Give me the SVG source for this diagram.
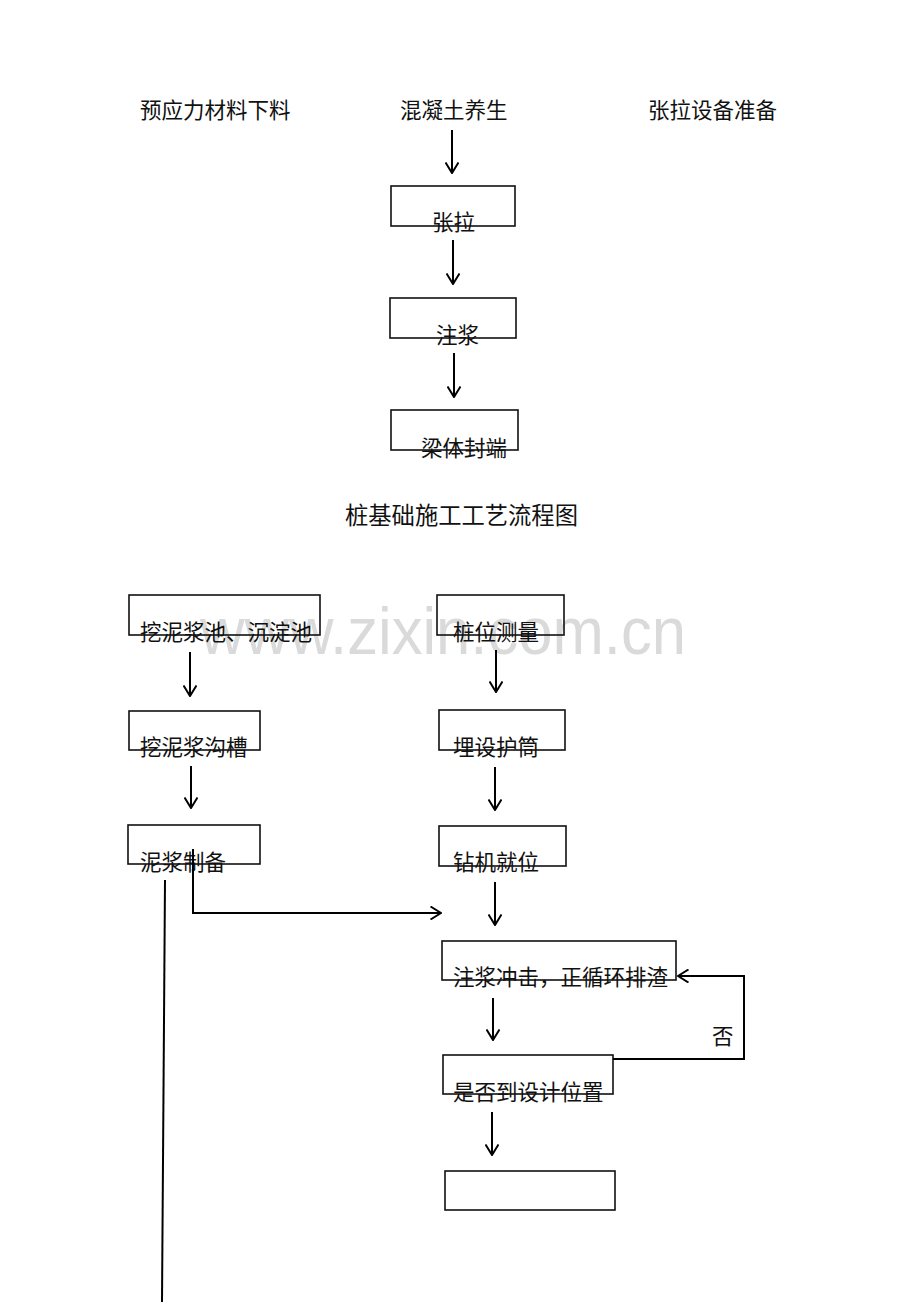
<svg xmlns="http://www.w3.org/2000/svg" width="920" height="1302" viewBox="0 0 920 1302">
<style>
.t{font-family:"Liberation Serif","Noto Sans CJK SC",serif;font-size:21.5px;fill:#111}
.b{fill:none;stroke:#111;stroke-width:1.6}
.c{fill:none;stroke:#000;stroke-width:2}
.wm{font-family:"Liberation Sans",Arial,sans-serif;font-size:66px;fill:#dadada}
</style>
<defs>
<marker id="ah" viewBox="0 0 12 14" refX="11" refY="7" markerWidth="12" markerHeight="14" markerUnits="userSpaceOnUse" orient="auto">
<path d="M0.5,0.5 L11,7 L0.5,13.5" fill="none" stroke="#000" stroke-width="2"/>
</marker>
</defs>
<rect width="920" height="1302" fill="#fff"/>
<text class="wm" x="200" y="654" textLength="486" lengthAdjust="spacingAndGlyphs">www.zixin.com.cn</text>

<g id="top-labels">
<text class="t" x="140" y="118">预应力材料下料</text>
<text class="t" x="400" y="118">混凝土养生</text>
<text class="t" x="648" y="118">张拉设备准备</text>
</g>
<g id="n-zhangla"><rect class="b" x="391" y="186" width="124" height="40"/><text class="t" x="432" y="230">张拉</text></g>
<g id="n-zhujiang"><rect class="b" x="390" y="298" width="126" height="40"/><text class="t" x="436" y="343">注浆</text></g>
<g id="n-fengduan"><rect class="b" x="391" y="410" width="127" height="40"/><text class="t" x="421" y="456">梁体封端</text></g>
<g id="title"><text class="t" x="345" y="524" style="font-size:23.3px">桩基础施工工艺流程图</text></g>

<g id="n-nijiangchi"><rect class="b" x="129" y="595" width="191" height="40"/><text class="t" x="140" y="640">挖泥浆池、沉淀池</text></g>
<g id="n-goucao"><rect class="b" x="129" y="711" width="131" height="39"/><text class="t" x="140" y="755">挖泥浆沟槽</text></g>
<g id="n-zhibei"><rect class="b" x="128" y="825" width="132" height="39"/><text class="t" x="140" y="870">泥浆制备</text></g>
<g id="n-celiang"><rect class="b" x="437" y="595" width="127" height="40"/><text class="t" x="453" y="640">桩位测量</text></g>
<g id="n-hutong"><rect class="b" x="439" y="710" width="126" height="40"/><text class="t" x="453" y="755">埋设护筒</text></g>
<g id="n-zuanji"><rect class="b" x="439" y="826" width="127" height="40"/><text class="t" x="453" y="870">钻机就位</text></g>
<g id="n-chongji"><rect class="b" x="442" y="941" width="234" height="39"/><text class="t" x="453" y="985">注浆冲击，正循环排渣</text></g>
<g id="n-weizhi"><rect class="b" x="443" y="1055" width="170" height="39"/><text class="t" x="453" y="1100">是否到设计位置</text></g>
<g id="n-empty"><rect class="b" x="445" y="1171" width="170" height="39"/></g>

<g id="connectors">
<line class="c" x1="452" y1="130" x2="452" y2="173" marker-end="url(#ah)"/>
<line class="c" x1="453" y1="240" x2="453" y2="284" marker-end="url(#ah)"/>
<line class="c" x1="454" y1="353" x2="454" y2="397" marker-end="url(#ah)"/>
<line class="c" x1="190" y1="652" x2="190" y2="696" marker-end="url(#ah)"/>
<line class="c" x1="191" y1="766" x2="191" y2="808" marker-end="url(#ah)"/>
<line class="c" x1="496" y1="650" x2="496" y2="692" marker-end="url(#ah)"/>
<line class="c" x1="495" y1="767" x2="495" y2="810" marker-end="url(#ah)"/>
<line class="c" x1="495" y1="882" x2="495" y2="925" marker-end="url(#ah)"/>
<line class="c" x1="493" y1="998" x2="493" y2="1040" marker-end="url(#ah)"/>
<line class="c" x1="492" y1="1112" x2="492" y2="1155" marker-end="url(#ah)"/>
<polyline class="c" points="193,849 193,913 441,913" marker-end="url(#ah)"/>
<line class="c" x1="165" y1="880" x2="162" y2="1302"/>
<polyline class="c" points="613,1059 744,1059 744,976 678,976" marker-end="url(#ah)"/>
<text class="t" x="712" y="1044">否</text>
</g>
</svg>
